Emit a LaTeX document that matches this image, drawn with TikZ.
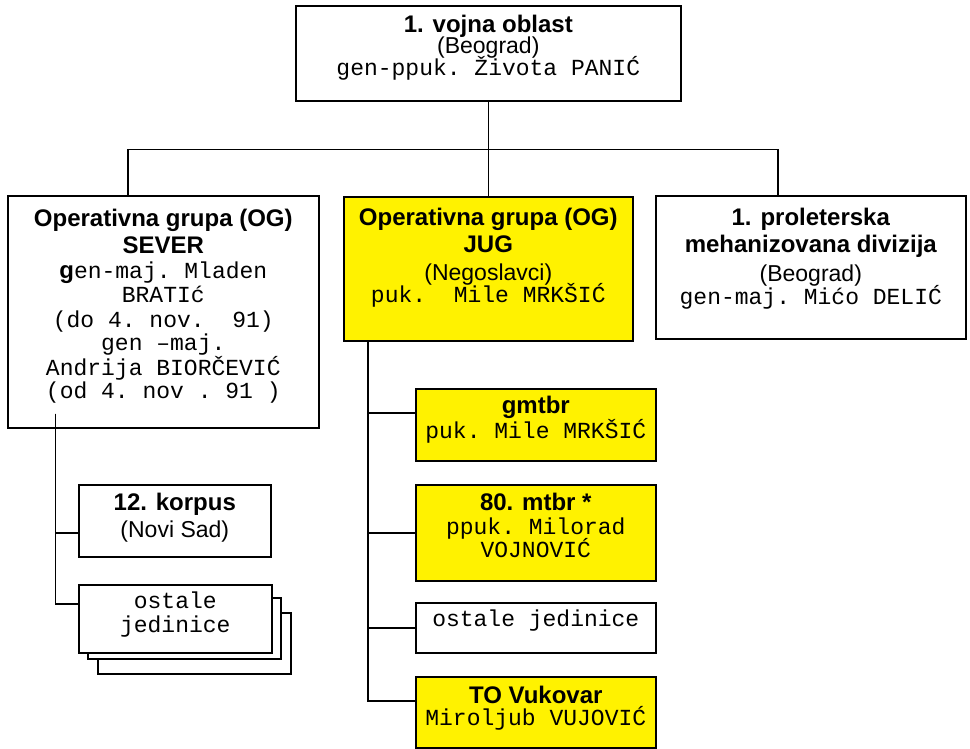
\documentclass[tikz,border=0pt]{standalone}
\usepackage{fontspec}
\setmainfont{Liberation Sans}
\setmonofont{Liberation Mono}
\usetikzlibrary{positioning}

\tikzset{
  unit/.style={draw, line width=1.6pt, inner sep=0pt, anchor=north west, fill=white,
    font=\fontsize{23}{24}\selectfont},
  ours/.style={unit, fill=yellow},
  link/.style={line width=1.4pt},
}
% box body: width, height, first baseline, lines
\newcommand\unitbody[4]{\parbox[c][#2pt][t]{#1pt}{\lineskiplimit=-50pt\centering
  \rule{0pt}{#3pt}#4\par}}
\newcommand\hd[1]{{\fontsize{24}{24}\selectfont\bfseries #1}}
\newcommand\tm[1]{\texttt{#1}}

\begin{document}
\begin{tikzpicture}[x=1pt,y=-1pt]
        \useasboundingbox (0,0) rectangle (970,749);

        % Top command
        \node[unit] (vo) at (295,5) {\unitbody{385}{95}{27}{%
          \hd{1. vojna oblast}\\[-3pt] (Beograd)\\[-2pt] \tm{gen-ppuk. Života PANIĆ}}};

        % Groups
        \node[unit] (sever) at (7,195) {\unitbody{311}{232}{31}{%
          \hd{Operativna grupa (OG)}\\[3pt] \hd{SEVER}\\[1pt]
          \hd{g}\tm{en-maj. Mladen}\\ \tm{BRATIć}\\[1pt] \tm{(do 4. nov.~ 91)}\\[-1pt]
          \tm{gen –maj.}\\[1pt] \tm{Andrija BIORČEVIĆ}\\[-1pt] \tm{(od 4. nov . 91 )}}};
        \node[ours] (jug) at (343,196) {\unitbody{289}{144}{29}{%
          \hd{Operativna grupa (OG)}\\[3pt] \hd{JUG}\\[4pt] (Negoslavci)\\[-2pt]
          \tm{puk.~ Mile MRKŠIĆ}}};
        \node[unit] (div) at (655,195) {\unitbody{310}{143}{30}{%
          \hd{1. proleterska}\\[3pt] \hd{mehanizovana divizija}\\[5pt] (Beograd)\\[-1pt]
          \tm{gen-maj. Mićo DELIĆ}}};

        % Units of OG Sever
        \node[unit] (korpus) at (78,484) {\unitbody{192}{72}{26}{%
          \hd{12. korpus}\\[3pt] (Novi Sad)}};
        \draw[line width=1.6pt, fill=white] (98,613) rectangle (291,674);
        \draw[line width=1.6pt, fill=white] (88,598) rectangle (281,659);
        \node[unit] (rest) at (78,584) {\unitbody{193}{68}{24}{%
          \tm{ostale}\\ \tm{jedinice}}};

        % Units of OG Jug
        \node[ours] (gmtbr) at (415,388) {\unitbody{240}{72}{25}{%
          \hd{gmtbr}\\[1pt] \tm{puk. Mile MRKŠIĆ}}};
        \node[ours] (mtbr) at (415,484) {\unitbody{240}{96}{26}{%
          \hd{80. mtbr *}\\ \tm{ppuk. Milorad}\\[-1pt] \tm{VOJNOVIĆ}}};
        \node[unit] (restjug) at (415,602) {\unitbody{240}{50}{24}{%
          \tm{ostale jedinice}}};
        \node[ours] (tovk) at (415,676) {\unitbody{240}{71}{27}{%
          \hd{TO Vukovar}\\[-2pt] \tm{Miroljub VUJOVIĆ}}};

        % Draw the lines
        \coordinate (bar) at ([yshift=-48pt]vo.south);
        \draw[link] (vo.south) -- (bar);
        \draw[link] ([xshift=-35.5pt]sever.north) |- (bar) -| ([xshift=-33pt]div.north);
        \draw[link] (bar) -- (jug.north);

        \coordinate (sevfoot) at ([xshift=-108pt,yshift=15pt]sever.south);
        \draw[link] (sevfoot) |- ([yshift=-12pt]korpus.west);
        \draw[link] (sevfoot) |- ([yshift=15pt]rest.west);

        \coordinate (jugfoot) at ([xshift=-120.5pt]jug.south);
        \foreach \sub/\dy in {gmtbr/12, mtbr/0, restjug/0, tovk/11.5}
        \draw[link] (jugfoot) |- ([yshift=\dy pt]\sub.west);
      \end{tikzpicture}
\end{document}
